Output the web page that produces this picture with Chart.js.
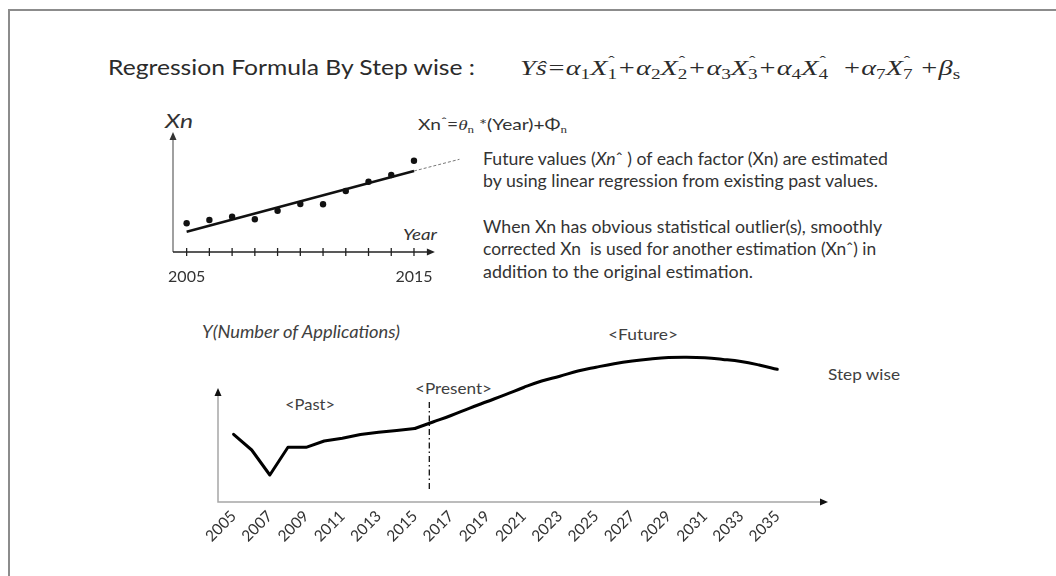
<!DOCTYPE html>
<html>
<head>
<meta charset="utf-8">
<script src="https://cdn.jsdelivr.net/npm/chart.js@4.4.0/dist/chart.umd.min.js"></script>
<style>
html, body { margin: 0; padding: 0; background: #fff; }
#page { position: relative; width: 1056px; height: 576px; overflow: hidden; font-family: Lato, "Open Sans", sans-serif; }
#frame { position: absolute; left: 8px; top: 9px; width: 1100px; height: 565px; border-left: 2px solid #8c8c8c; border-top: 2px solid #8c8c8c; border-bottom: 1px solid #e6e6e6; }
.t { position: absolute; white-space: nowrap; line-height: 1; color: #333; transform-origin: 0 50%; }
.it { font-style: italic; }
.m { font-family: "Liberation Serif", "DejaVu Serif", serif; font-style: italic; }
.sub { position: relative; top: 0.3em; font-size: 0.68em; font-style: normal; }
.st { position: relative; display: inline-block; top: 0.3em; font-size: 0.68em; font-style: normal; }
.st .hat { position: absolute; left: 0.05em; top: -0.85em; }
.sp { position: relative; top: -0.35em; font-size: 0.8em; }
canvas { position: absolute; }
#xnChart { left: 150px; top: 110px; }
#appChart { left: 180px; top: 300px; }
</style>
</head>
<body>
<div id="page">
  <div id="frame"></div>

  <div class="t" data-w="367" style="left:108px;top:56.4px;font-size:21px;color:#2b2b2b">Regression Formula By Step wise :</div>
  <div class="t m" data-w="440" style="left:520px;top:56.6px;font-size:22px;color:#2b2b2b">Ys&#x302;=α<span class="sub">1</span>X<span class="st"><span class="hat">ˆ</span>1</span>+α<span class="sub">2</span>X<span class="st"><span class="hat">ˆ</span>2</span>+α<span class="sub">3</span>X<span class="st"><span class="hat">ˆ</span>3</span>+α<span class="sub">4</span>X<span class="st"><span class="hat">ˆ</span>4</span>&nbsp;&nbsp;+α<span class="sub">7</span>X<span class="st"><span class="hat">ˆ</span>7</span>&nbsp;+β<span class="sub">s</span></div>

  <div class="t it" data-w="28" style="left:165px;top:111.1px;font-size:19px">Xn</div>
  <div class="t" data-w="149" style="left:418px;top:116.7px;font-size:15px">Xn<span class="sp">ˆ</span>=<span class="m">θ<span class="sub">n</span></span> *(Year)+Φ<span class="sub m">n</span></div>
  <div class="t it" data-w="34" style="left:403px;top:227.4px;font-size:15px">Year</div>

  <div class="t" data-w="405" style="left:483px;top:150.2px;font-size:17.5px">Future values (<i>Xn</i>ˆ ) of each factor (Xn) are estimated</div>
  <div class="t" data-w="395" style="left:483px;top:171.8px;font-size:17.5px">by using linear regression from existing past values.</div>
  <div class="t" data-w="399" style="left:483px;top:217.8px;font-size:17.5px">When Xn has obvious statistical outlier(s), smoothly</div>
  <div class="t" data-w="393" style="left:483px;top:239.5px;font-size:17.5px">corrected Xn&nbsp; is used for another estimation (Xnˆ) in</div>
  <div class="t" data-w="270" style="left:483px;top:262.8px;font-size:17.5px">addition to the original estimation.</div>

  <div class="t it" data-w="198" style="left:202px;top:324.4px;font-size:16.5px;color:#404040">Y(Number of Applications)</div>
  <div class="t" data-w="50" style="left:285px;top:395.8px;font-size:16px;color:#404040">&lt;Past&gt;</div>
  <div class="t" data-w="77" style="left:415px;top:379.8px;font-size:16px;color:#404040">&lt;Present&gt;</div>
  <div class="t" data-w="70" style="left:608px;top:325.8px;font-size:16px;color:#404040">&lt;Future&gt;</div>
  <div class="t" data-w="72" style="left:828px;top:365.8px;font-size:16px;color:#404040">Step wise</div>

  <canvas id="xnChart" width="320" height="190"></canvas>
  <canvas id="appChart" width="680" height="270"></canvas>
</div>

<script>
// ---- small chart: past values of a factor Xn and its linear fit ----
const xnYears = [2005, 2006, 2007, 2008, 2009, 2010, 2011, 2012, 2013, 2014, 2015];
const xnValues = [28.7, 32, 35.3, 32.7, 41.3, 48, 47.7, 61, 70.3, 77, 91.3];
const fitYears = [2005, 2015];
const fitValues = [20.3, 81];
const extYears = [2015, 2017];
const extValues = [81, 92.7];
const xnLabelYears = [2005, 2015];
const xnAxisTop = 120;
const xnAxisEnd = 2015.92;

// ---- bottom chart: number of applications, past and estimated ----
const appPastYears = [2005, 2006, 2007, 2008, 2009, 2010, 2011, 2012, 2013, 2014, 2015];
const appPastValues = [67.7, 52, 27, 54.7, 54.7, 61, 63.7, 67.5, 69.7, 71.5, 73.5];
const appFutureYears = [2015, 2016, 2017, 2018, 2019, 2020, 2021, 2022, 2023, 2024, 2025,
    2026, 2027, 2028, 2029, 2030, 2031, 2032, 2033, 2034, 2035];
const appFutureValues = [73.5, 80, 86.5, 93.7, 100.5, 107.3, 114.5, 121, 125.7, 131, 134.8,
    138.3, 141, 143, 144.4, 144.7, 144.2, 142.6, 140.5, 137, 132.7];
const appTickYears = [2005, 2007, 2009, 2011, 2013, 2015, 2017, 2019, 2021, 2023, 2025,
    2027, 2029, 2031, 2033, 2035];
const presentYear = 2015.8;
const presentRange = [10, 100];
const appAxisTop = 114;

const pts = (xs, ys) => xs.map((x, i) => ({ x: x, y: ys[i] }));

function arrowHead(ctx, x, y, dir, color) {
    const len = 8, half = 3.5;
    ctx.fillStyle = color;
    ctx.beginPath();
    if (dir === 'up') {
        ctx.moveTo(x, y);
        ctx.lineTo(x - half, y + len);
        ctx.lineTo(x + half, y + len);
    } else {
        ctx.moveTo(x, y);
        ctx.lineTo(x - len, y - half);
        ctx.lineTo(x - len, y + half);
    }
    ctx.closePath();
    ctx.fill();
}

const xnAxes = {
    id: 'xnAxes',
    beforeDatasetsDraw(chart) {
        const { ctx, chartArea, scales: { x, y } } = chart;
        const left = chartArea.left, bottom = chartArea.bottom;
        const top = y.getPixelForValue(xnAxisTop);
        const right = x.getPixelForValue(xnAxisEnd);
        ctx.save();
        ctx.lineWidth = 1.5;
        ctx.strokeStyle = '#808080';
        ctx.beginPath();
        ctx.moveTo(left, bottom);
        ctx.lineTo(left, top + 6);
        ctx.stroke();
        arrowHead(ctx, left, top, 'up', '#333');

        ctx.strokeStyle = '#222';
        ctx.beginPath();
        ctx.moveTo(left, bottom);
        ctx.lineTo(right - 6, bottom);
        ctx.stroke();
        arrowHead(ctx, right, bottom, 'right', '#222');

        // year tick marks cross the axis
        ctx.lineWidth = 1.3;
        xnYears.forEach(v => {
            const px = x.getPixelForValue(v);
            ctx.beginPath();
            ctx.moveTo(px, bottom - 4);
            ctx.lineTo(px, bottom + 4);
            ctx.stroke();
        });
        ctx.restore();
    }
};

const appAxes = {
    id: 'appAxes',
    beforeDatasetsDraw(chart) {
        const { ctx, chartArea, scales: { x, y } } = chart;
        const left = chartArea.left, bottom = chartArea.bottom;
        const top = y.getPixelForValue(appAxisTop);
        ctx.save();
        ctx.lineWidth = 1.5;
        ctx.strokeStyle = '#a6a6a6';
        ctx.beginPath();
        ctx.moveTo(left, top + 6);
        ctx.lineTo(left, bottom);
        ctx.lineTo(chartArea.right - 6, bottom);
        ctx.stroke();
        arrowHead(ctx, left, top, 'up', '#111');
        arrowHead(ctx, chartArea.right, bottom, 'right', '#111');

        // present marker
        const px = x.getPixelForValue(presentYear);
        ctx.strokeStyle = '#111';
        ctx.lineWidth = 1.3;
        ctx.setLineDash([6, 3, 1.5, 3]);
        ctx.beginPath();
        ctx.moveTo(px, y.getPixelForValue(presentRange[1]));
        ctx.lineTo(px, y.getPixelForValue(presentRange[0]));
        ctx.stroke();
        ctx.restore();
    }
};

// fit the text boxes to the widths measured on the picture
document.querySelectorAll('[data-w]').forEach(el => {
    const w = el.getBoundingClientRect().width;
    if (w > 0) el.style.transform = 'scaleX(' + (el.dataset.w / w).toFixed(3) + ')';
});

const baseOptions = {
    animation: false,
    responsive: false,
    events: [],
    plugins: { legend: { display: false }, tooltip: { enabled: false } }
};

new Chart(document.getElementById('xnChart'), {
    type: 'scatter',
    data: {
        datasets: [
            { data: pts(xnYears, xnValues), pointRadius: 3.2, pointBackgroundColor: '#111', pointBorderWidth: 0 },
            { data: pts(fitYears, fitValues), showLine: true, borderColor: '#111', borderWidth: 2.5, pointRadius: 0 },
            { data: pts(extYears, extValues), showLine: true, borderColor: '#777', borderWidth: 1, borderDash: [3, 2], pointRadius: 0 }
        ]
    },
    options: {
        ...baseOptions,
        layout: { padding: { left: 23, right: 6, top: 17, bottom: 0 } },
        scales: {
            x: {
                type: 'linear', min: 2004.4, max: 2017.2,
                grid: { display: false, drawTicks: false },
                border: { display: false },
                afterBuildTicks: s => { s.ticks = xnYears.map(v => ({ value: v })); },
                afterFit: s => { s.height = 48; },
                ticks: {
                    padding: 15, autoSkip: false, maxRotation: 0,
                    font: { family: 'Lato', size: 16 }, color: '#333',
                    callback: v => xnLabelYears.includes(v) ? String(v) : ''
                }
            },
            y: { display: false, min: 0, max: 125 }
        }
    },
    plugins: [xnAxes]
});

new Chart(document.getElementById('appChart'), {
    type: 'scatter',
    data: {
        datasets: [
            { data: pts(appPastYears, appPastValues), showLine: true, borderColor: '#000', borderWidth: 3,
              pointRadius: 0, tension: 0, borderJoinStyle: 'round', borderCapStyle: 'round' },
            { data: pts(appFutureYears, appFutureValues), showLine: true, borderColor: '#000', borderWidth: 3,
              pointRadius: 0, tension: 0.4, borderJoinStyle: 'round', borderCapStyle: 'round' }
        ]
    },
    options: {
        ...baseOptions,
        layout: { padding: { left: 38, right: 32, top: 52, bottom: 0 } },
        scales: {
            x: {
                type: 'linear', min: 2004.14, max: 2037.8,
                grid: { display: false, drawTicks: false },
                border: { display: false },
                afterBuildTicks: s => { s.ticks = appTickYears.map(v => ({ value: v })); },
                afterFit: s => { s.height = 68; },
                ticks: {
                    padding: 5, autoSkip: false, minRotation: 45, maxRotation: 45,
                    font: { family: 'Lato', size: 15.5 }, color: '#333',
                    callback: v => String(v)
                }
            },
            y: { display: false, min: 0, max: 150 }
        }
    },
    plugins: [appAxes]
});
</script>
</body>
</html>
